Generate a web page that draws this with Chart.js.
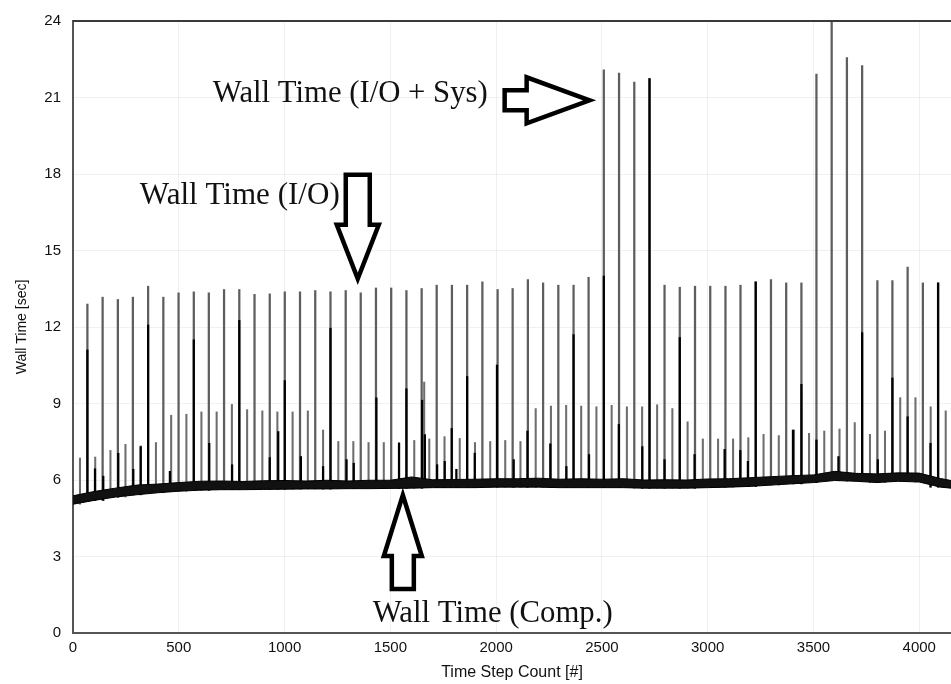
<!DOCTYPE html>
<html>
<head>
<meta charset="utf-8">
<script src="https://cdn.jsdelivr.net/npm/chart.js@4"></script>
<style>
  html, body { margin: 0; padding: 0; background: #fff; overflow: hidden; }
  #wrap { width: 951px; height: 684px; }
</style>
</head>
<body>
<div id="wrap"><canvas id="wallChart" width="951" height="684"></canvas></div>
<script>
// Time steps of the big I/O write spikes and their peak wall time (sec)
const tallSteps = [68, 140, 212, 283, 355, 427, 499, 571, 642, 714, 786, 858, 930, 1001, 1073, 1145, 1217, 1289, 1360,
    1432, 1504, 1576, 1648, 1719, 1791, 1863, 1935, 2007, 2078, 2150, 2222, 2294, 2366, 2437, 2509, 2581, 2653, 2725,
    2796, 2868, 2940, 3012, 3084, 3155, 3227, 3299, 3371, 3443, 3514, 3586, 3658, 3730, 3802, 3873, 3945, 4017, 4089];
const tallPeaks = [12.9, 13.17, 13.08, 13.17, 13.6, 13.17, 13.34, 13.38, 13.34, 13.47, 13.47, 13.28, 13.3, 13.38, 13.38, 13.43, 13.38, 13.43, 13.34,
    13.53, 13.53, 13.43, 13.51, 13.64, 13.64, 13.64, 13.77, 13.47, 13.51, 13.86, 13.73, 13.64, 13.64, 13.95, 22.09, 21.96, 21.6, 21.74,
    13.64, 13.56, 13.6, 13.6, 13.6, 13.64, 13.77, 13.86, 13.73, 13.73, 21.92, 24.5, 22.57, 22.25, 13.82, 13.82, 14.35, 13.73, 13.73];

// Intermediate (smaller) spikes between the I/O writes
const mediumSteps = [33, 105, 177, 248, 320, 392, 464, 536, 607, 679, 751, 823, 895, 966, 1038, 1110, 1182, 1254, 1325, 1397,
    1469, 1541, 1613, 1660, 1684, 1756, 1828, 1900, 1972, 2043, 2115, 2187, 2259, 2331, 2402, 2474, 2546, 2618, 2690, 2761,
    2833, 2905, 2977, 3049, 3120, 3192, 3264, 3336, 3408, 3479, 3551, 3623, 3695, 3767, 3838, 3910, 3982, 4054, 4125];
const mediumPeaks = [6.86, 6.9, 7.16, 7.4, 7.34, 7.47, 8.54, 8.58, 8.67, 8.67, 8.96, 8.76, 8.71, 8.67, 8.67, 8.71, 7.96, 7.51, 7.51, 7.47,
    7.47, 7.47, 7.55, 9.84, 7.61, 7.7, 7.63, 7.47, 7.51, 7.55, 7.51, 8.8, 8.9, 8.93, 8.9, 8.87, 8.93, 8.87, 8.87, 8.95,
    8.8, 8.28, 7.61, 7.61, 7.61, 7.66, 7.79, 7.74, 7.96, 7.83, 7.92, 8.0, 8.25, 7.79, 7.92, 9.23, 9.23, 8.87, 8.71];

// Dark (black) spikes drawn over the grey ones
const darkSteps = [68, 104, 143, 214, 285, 320, 355, 458, 571, 644, 752, 786, 930, 970, 1001, 1077, 1182, 1217, 1293, 1327,
    1434, 1541, 1576, 1650, 1663, 1721, 1757, 1790, 1812, 1863, 1899, 2004, 2083, 2148, 2256, 2332, 2366, 2439, 2509, 2580,
    2691, 2725, 2796, 2868, 2938, 3080, 3154, 3190, 3227, 3403, 3443, 3514, 3618, 3730, 3804, 3873, 3945, 4053, 4089];
const darkPeaks = [11.1, 6.44, 6.15, 7.05, 6.42, 7.31, 12.08, 6.34, 11.5, 7.44, 6.6, 12.26, 6.88, 7.9, 9.9, 6.92, 6.53, 11.95, 6.8, 6.66,
    9.22, 7.44, 9.58, 9.13, 7.78, 6.6, 6.73, 8.02, 6.42, 10.06, 7.05, 10.51, 6.8, 7.92, 7.42, 6.53, 11.7, 7.0, 14.0, 8.18,
    7.31, 21.74, 6.8, 11.59, 7.0, 7.2, 7.16, 6.73, 13.77, 7.96, 9.75, 7.57, 6.92, 11.78, 6.8, 10.0, 8.48, 7.44, 13.73];

// Computation wall time: noisy band, lower / upper edge
const envSteps = [0, 100, 200, 300, 400, 500, 600, 700, 800, 900, 1000, 1100, 1200, 1300, 1400, 1500, 1600, 1700, 1800, 1900,
    2000, 2100, 2200, 2300, 2400, 2500, 2600, 2700, 2800, 2900, 3000, 3100, 3200, 3300, 3400, 3500, 3600, 3700, 3800, 3900,
    4000, 4100, 4150];
const lowerEnv = [5.05, 5.2, 5.33, 5.42, 5.5, 5.56, 5.6, 5.62, 5.62, 5.63, 5.64, 5.65, 5.65, 5.66, 5.66, 5.67, 5.68, 5.7, 5.7, 5.7,
    5.72, 5.72, 5.72, 5.7, 5.7, 5.7, 5.7, 5.68, 5.68, 5.68, 5.7, 5.72, 5.75, 5.8, 5.85, 5.9, 5.98, 5.95, 5.9, 5.95,
    5.92, 5.72, 5.68];
const upperEnv = [5.38, 5.55, 5.68, 5.8, 5.84, 5.9, 5.95, 5.96, 5.94, 5.97, 5.98, 5.96, 5.99, 5.96, 5.99, 5.99, 6.12, 6.01, 6.02, 6.03,
    6.05, 6.05, 6.07, 6.03, 6.05, 6.03, 6.05, 6.0, 6.01, 6.0, 6.04, 6.05, 6.09, 6.13, 6.17, 6.2, 6.34, 6.26, 6.24, 6.28,
    6.27, 6.06, 5.98];

const xTicks = [0, 500, 1000, 1500, 2000, 2500, 3000, 3500, 4000];
const yTicks = [0, 3, 6, 9, 12, 15, 18, 21, 24];

// annotation texts (step range for width, value for baseline)
const notes = [
    { text: "Wall Time (I/O + Sys)", from: 661, to: 1960, y: 20.81 },
    { text: "Wall Time (I/O)", from: 316, to: 1261, y: 16.84 },
    { text: "Wall Time (Comp.)", from: 1417, to: 2551, y: 0.43 }
];
// block arrows: tip in data units, shape in px
const arrows = [
    { x: 2442, y: 20.89, dir: "right", head: 63, headHalf: 23, shaft: 22, shaftHalf: 10 },
    { x: 1346, y: 13.89, dir: "down", head: 54, headHalf: 21, shaft: 50, shaftHalf: 12 },
    { x: 1559, y: 5.41, dir: "up", head: 61, headHalf: 19, shaft: 33, shaftHalf: 11 }
];

/* spikes start from the band edge sampled nearest to them */
function baseAt(step) {
    let best = 0;
    envSteps.forEach((s, i) => {
        if (Math.abs(s - step) < Math.abs(envSteps[best] - step)) best = i;
    });
    return lowerEnv[best];
}

function spikes(steps, peaks) {
    return steps.map((s, i) => ({ x: s, y: [baseAt(s), peaks[i]] }));
}

const frameAndNotes = {
    id: "frameAndNotes",
    afterDatasetsDraw(chart) {
        const c = chart.ctx;
        const area = chart.chartArea;
        const xs = chart.scales.x;
        const ys = chart.scales.y;

        c.save();
        // top frame line
        c.strokeStyle = "#3a3a3a";
        c.lineWidth = 2;
        c.beginPath();
        c.moveTo(area.left, area.top);
        c.lineTo(area.right, area.top);
        c.stroke();

        // labels
        c.fillStyle = "#111";
        c.textBaseline = "alphabetic";
        notes.forEach(n => {
            const left = xs.getPixelForValue(n.from);
            const right = xs.getPixelForValue(n.to);
            c.font = '100px "Liberation Serif"';
            const w = c.measureText(n.text).width;
            const size = 100 * (right - left) / w;
            c.font = size.toFixed(2) + 'px "Liberation Serif"';
            c.fillText(n.text, left, ys.getPixelForValue(n.y));
        });

        // arrows
        arrows.forEach(a => {
            const tx = xs.getPixelForValue(a.x);
            const ty = ys.getPixelForValue(a.y);
            const L = a.head, H = a.headHalf, S = a.shaft, h = a.shaftHalf;
            // shape pointing along +u, v perpendicular
            const pts = [[0, 0], [-L, -H], [-L, -h], [-L - S, -h], [-L - S, h], [-L, h], [-L, H]];
            const rot = { right: [1, 0], left: [-1, 0], down: [0, 1], up: [0, -1] }[a.dir];
            c.beginPath();
            pts.forEach((p, i) => {
                const px = tx + p[0] * rot[0] - p[1] * rot[1];
                const py = ty + p[0] * rot[1] + p[1] * rot[0];
                if (i === 0) c.moveTo(px, py); else c.lineTo(px, py);
            });
            c.closePath();
            c.fillStyle = "#fff";
            c.fill();
            c.lineJoin = "miter";
            c.lineWidth = 4.5;
            c.strokeStyle = "#000";
            c.stroke();
        });
        c.restore();
    }
};

const gridColor = "rgba(0,0,0,0.06)";
const axisFont = { family: '"Liberation Sans", Arial, sans-serif', size: 15 };

new Chart(document.getElementById("wallChart"), {
    type: "bar",
    data: {
        datasets: [
            {
                type: "line",
                label: "comp-low",
                data: envSteps.map((s, i) => ({ x: s, y: lowerEnv[i] })),
                borderColor: "#000",
                borderWidth: 1,
                pointRadius: 0,
                fill: false,
                order: 0
            },
            {
                type: "line",
                label: "comp-high",
                data: envSteps.map((s, i) => ({ x: s, y: upperEnv[i] })),
                borderColor: "#000",
                borderWidth: 1,
                backgroundColor: "#111",
                pointRadius: 0,
                fill: "-1",
                order: 0
            },
            {
                label: "dark",
                data: spikes(darkSteps, darkPeaks),
                backgroundColor: "#000",
                barThickness: 1.6,
                grouped: false,
                order: 1
            },
            {
                label: "io",
                data: spikes(tallSteps, tallPeaks),
                backgroundColor: "#5e5e5e",
                barThickness: 1.6,
                grouped: false,
                order: 2
            },
            {
                label: "mid",
                data: spikes(mediumSteps, mediumPeaks),
                backgroundColor: "#6e6e6e",
                barThickness: 1.4,
                grouped: false,
                order: 3
            }
        ]
    },
    options: {
        responsive: false,
        animation: false,
        devicePixelRatio: 1,
        layout: { padding: { top: 15, right: 0, left: 0, bottom: 0 } },
        plugins: {
            legend: { display: false },
            tooltip: { enabled: false }
        },
        scales: {
            x: {
                type: "linear",
                min: 0,
                max: 4150,
                offset: false,
                afterFit: (s) => { s.height = 51; },
                afterBuildTicks: (s) => { s.ticks = xTicks.map(v => ({ value: v })); },
                ticks: {
                    color: "#111",
                    font: axisFont,
                    padding: 6,
                    maxRotation: 0,
                    autoSkip: false,
                    callback: (v) => String(v)
                },
                grid: { color: gridColor, drawTicks: false, offset: false },
                border: { display: true, color: "#555", width: 2 },
                title: {
                    display: true,
                    text: "Time Step Count [#]",
                    color: "#111",
                    font: { family: '"Liberation Sans", Arial, sans-serif', size: 16 },
                    padding: { top: 1.4, bottom: 1.4 }
                }
            },
            y: {
                min: 0,
                max: 24,
                afterFit: (s) => { s.width = 73; },
                afterBuildTicks: (s) => { s.ticks = yTicks.map(v => ({ value: v })); },
                ticks: {
                    color: "#111",
                    font: axisFont,
                    padding: 12
                },
                grid: { color: gridColor, drawTicks: false },
                border: { display: true, color: "#555", width: 2 },
                title: {
                    display: true,
                    text: "Wall Time [sec]",
                    color: "#111",
                    font: { family: '"Liberation Sans", Arial, sans-serif', size: 14 },
                    padding: { top: 13.6, bottom: 13.6 }
                }
            }
        }
    },
    plugins: [frameAndNotes]
});
</script>
</body>
</html>
